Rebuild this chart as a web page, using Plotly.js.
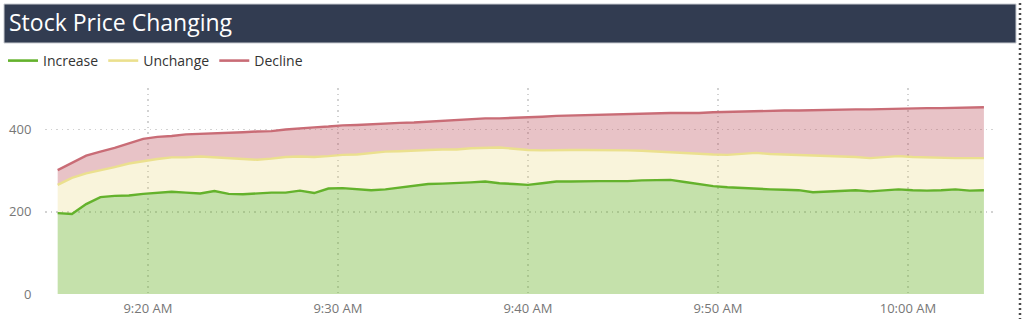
<!DOCTYPE html>
<html>
<head>
<meta charset="utf-8">
<script src="https://cdn.plot.ly/plotly-3.0.1.min.js"></script>
<style>
  html, body { margin: 0; padding: 0; background: #ffffff; }
  #chart { width: 1024px; height: 319px; }
</style>
</head>
<body>
<div id="chart"></div>
<script>
// Sampling: every 45 seconds from 9:15:15 to 10:04:00
const startTime = '2024-01-01T09:15:15';
const stepSeconds = 45;

const increase = [197,195,219,236,239,240,244,247,249,247,245,251,244,243,245,247,247,252,246,257,
  258,256,253,255,259,264,268,269,270,272,274,270,268,266,270,274,274,275,275,275,
  275,277,277,278,273,268,263,260,258,256,255,254,253,248,250,252,253,250,252,255,
  253,252,253,255,252,253];

const unchange = [69,88,75,65,70,78,80,82,84,86,90,82,87,86,82,83,87,83,88,79,
  81,84,91,92,89,86,83,83,82,83,82,87,86,85,80,77,77,76,76,75,
  75,72,70,67,71,74,77,79,83,88,86,86,86,90,86,84,81,81,82,81,
  81,81,78,76,79,78];

const decline = [36,36,43,46,47,49,54,54,52,56,55,59,62,65,69,67,67,69,72,72,
  72,72,70,69,69,68,69,69,71,70,72,71,75,80,82,83,84,85,86,88,
  89,90,93,96,97,99,103,105,104,101,105,107,108,110,112,113,116,119,117,116,
  118,120,122,123,123,124];

const seriesNames = ['Increase', 'Unchange', 'Decline'];
const yTicks = [0, 200, 400];

function pad(n) { return (n < 10 ? '0' : '') + n; }
const t0 = new Date(startTime);
const times = increase.map((_, i) => {
  const d = new Date(t0.getTime() + i * stepSeconds * 1000);
  return '2024-01-01 ' + pad(d.getHours()) + ':' + pad(d.getMinutes()) + ':' + pad(d.getSeconds());
});

const FONT = '"Open Sans", "Noto Sans", sans-serif';

const styles = [
  { line: '#64b22c', fill: 'rgba(110,180,45,0.4)' },
  { line: '#ebe08e', fill: 'rgba(230,210,110,0.25)' },
  { line: '#c96c76', fill: 'rgba(190,90,100,0.36)' }
];
const seriesValues = [increase, unchange, decline];

const areaTraces = seriesValues.map((vals, k) => ({
  name: seriesNames[k], x: times, y: vals, type: 'scatter', mode: 'lines',
  stackgroup: 'one', hoverinfo: 'skip', showlegend: false,
  line: { color: styles[k].line, width: 2.4 }, fillcolor: styles[k].fill
}));
// Legend entries drawn as plain lines (no data)
const legendTraces = seriesNames.map((n, k) => ({
  name: n, x: [null], y: [null], type: 'scatter', mode: 'lines',
  line: { color: styles[k].line, width: 2.6 }, hoverinfo: 'skip'
}));

const GRID = { showgrid: true, gridcolor: '#d2d2d2', griddash: '1.5px,4px', gridwidth: 1.2 };

const layout = {
  width: 1024, height: 319,
  margin: { l: 45, r: 29, t: 88, b: 25, pad: 0 },
  paper_bgcolor: '#ffffff', plot_bgcolor: '#ffffff',
  font: { family: FONT, size: 13, color: '#777777' },
  title: {
    text: 'Stock Price Changing',
    font: { family: FONT, size: 23, color: '#ffffff' },
    x: 9 / 1024, xref: 'container', xanchor: 'left',
    y: 1 - 23 / 319, yref: 'container', yanchor: 'middle'
  },
  showlegend: true,
  legend: {
    orientation: 'h', x: 3 / 1024, xref: 'container', xanchor: 'left',
    y: 1 - 61 / 319, yref: 'container', yanchor: 'middle',
    font: { family: FONT, size: 14, color: '#333333' },
    traceorder: 'normal', itemwidth: 30, bgcolor: 'rgba(0,0,0,0)'
  },
  xaxis: Object.assign({
    type: 'date',
    range: ['2024-01-01 09:14:35', '2024-01-01 10:04:35'],
    tick0: '2024-01-01 09:00:00', dtick: 600000,
    tickformat: '%-I:%M %p',
    zeroline: false, showline: false,
    ticks: 'outside', ticklen: 2, tickcolor: 'rgba(0,0,0,0)',
    tickfont: { family: FONT, size: 13, color: '#777777' },
    fixedrange: true
  }, GRID),
  yaxis: Object.assign({
    range: [0, 502],
    tickvals: yTicks, ticktext: yTicks.map(String),
    zeroline: false, showline: false,
    ticks: 'outside', ticklen: 10, tickcolor: 'rgba(0,0,0,0)',
    tickfont: { family: FONT, size: 13, color: '#777777' },
    fixedrange: true
  }, GRID),
  shapes: [
    { type: 'rect', xref: 'paper', yref: 'paper', layer: 'below',
      x0: (4 - 45) / 950, x1: (1016 - 45) / 950,
      y0: (294 - 43) / 206, y1: (294 - 4) / 206,
      fillcolor: '#323c51', line: { color: '#c9ccd2', width: 1 } },
    { type: 'line', xref: 'paper', yref: 'paper',
      x0: (1020 - 45) / 950, x1: (1020 - 45) / 950,
      y0: (294 - 320) / 206, y1: (294 + 1) / 206,
      line: { color: '#4a4a4a', width: 2.5, dash: '2px,3px' } }
  ]
};

Plotly.newPlot('chart', areaTraces.concat(legendTraces), layout, { staticPlot: true, displayModeBar: false });
</script>
</body>
</html>
